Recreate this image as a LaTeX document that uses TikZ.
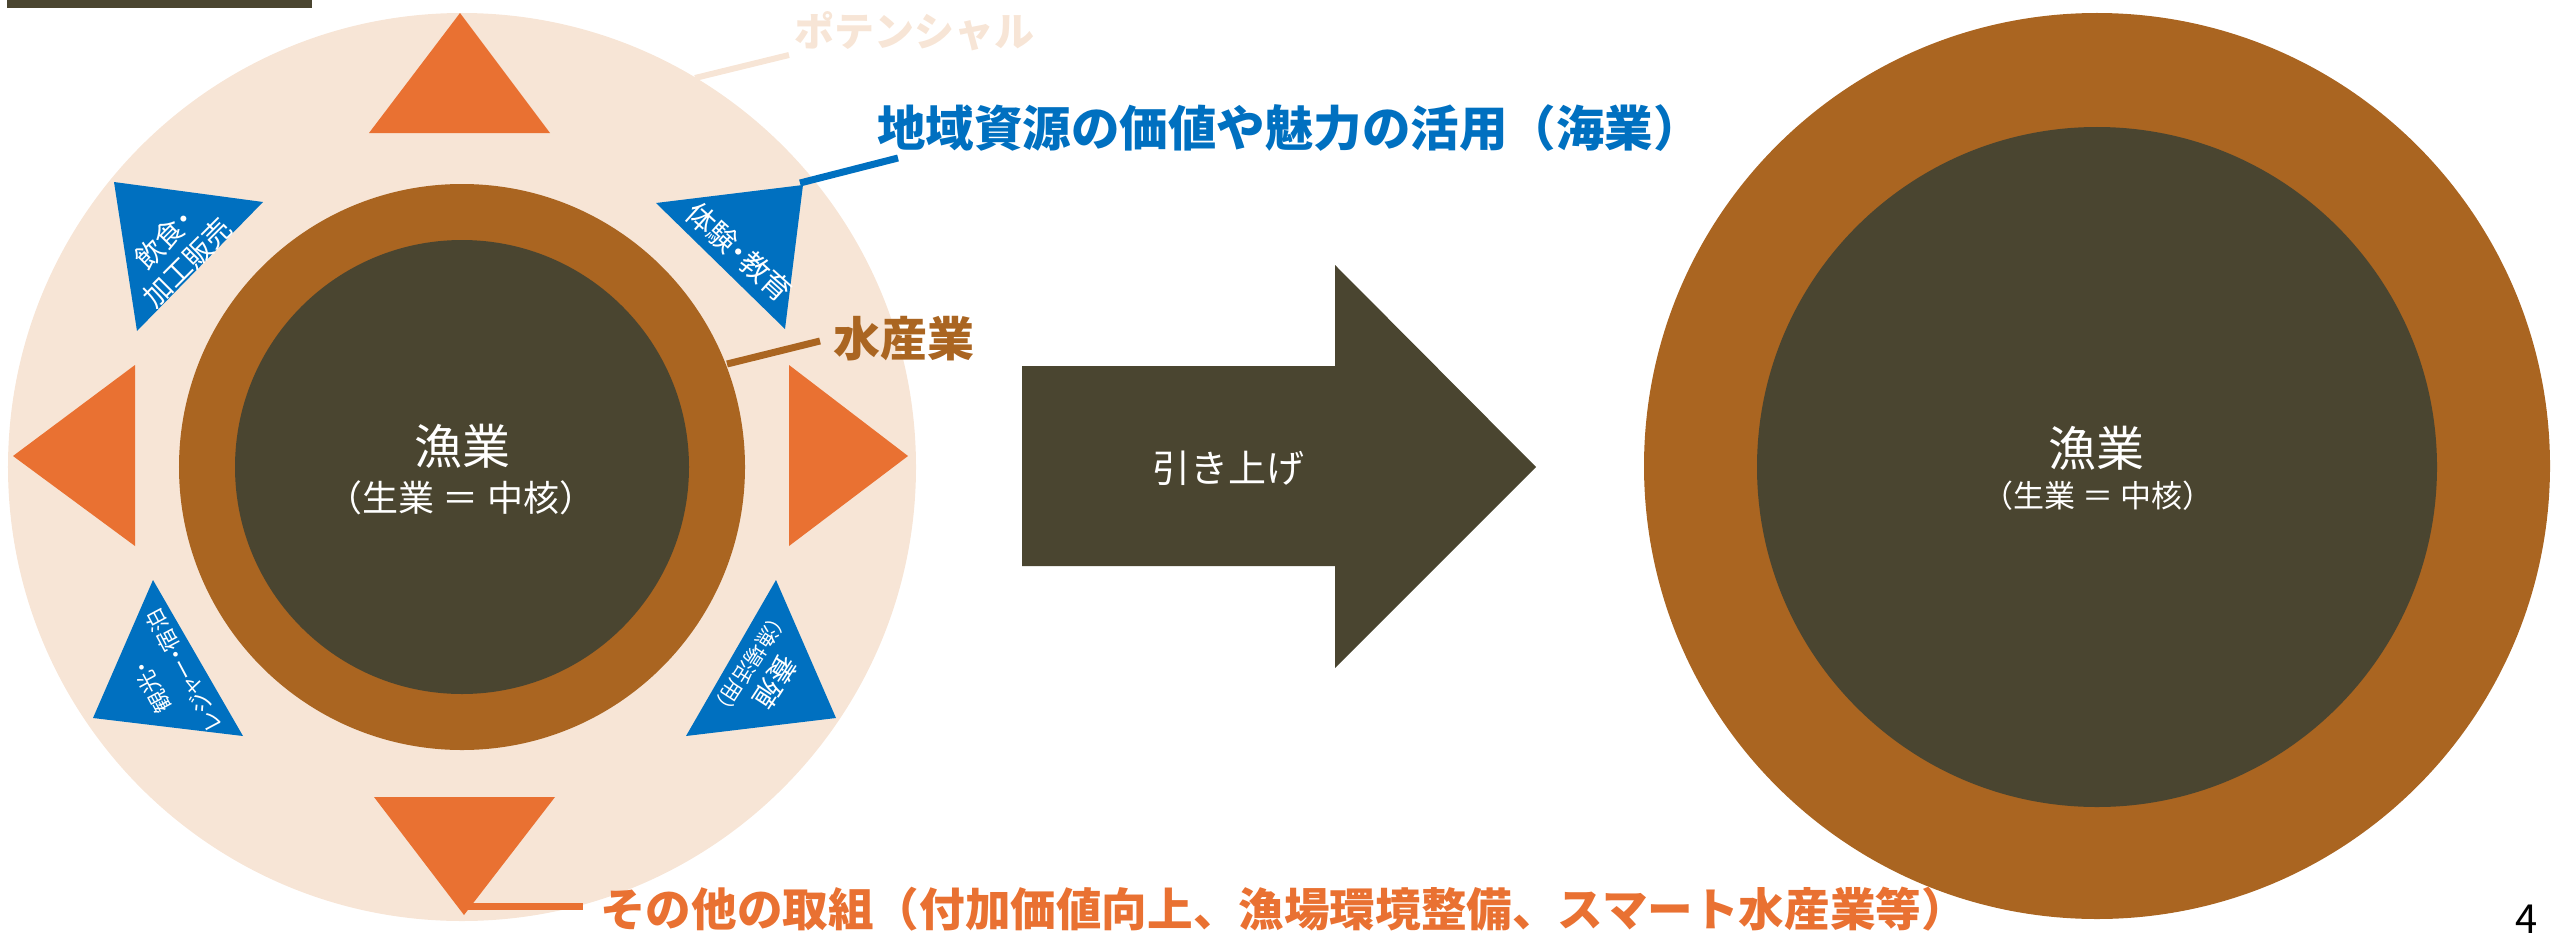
\documentclass[tikz,border=0pt]{standalone}
\usepackage{fontspec}
\setmainfont{Noto Sans CJK JP}
\newfontfamily\jpp{Noto Sans CJK JP}[RawFeature=+palt]
\definecolor{cBeige}{HTML}{F7E5D6}
\definecolor{cOrange}{HTML}{E97132}
\definecolor{cBlue}{HTML}{0070C0}
\definecolor{cBrown}{HTML}{AA6521}
\definecolor{cDark}{HTML}{4A4530}
\newcommand\myfs[2]{\fontsize{#1bp}{#2bp}\selectfont}
\begin{document}
\begin{tikzpicture}[x=1bp,y=-1bp,
  otri/.style={fill=cOrange},
  btri/.style={fill=cBlue},
  wtxt/.style={text=white,inner sep=0pt,align=center},
  lab/.style={inner sep=0pt,font=\bfseries\myfs{47}{50}},
]
\useasboundingbox (0,0) rectangle (2552,936);
\fill[cDark] (7,0) rectangle (312,8);

% ---------- left figure ----------
\fill[cBeige] (462,467) circle[radius=454bp];
\fill[otri] (460,13) -- (550,133) -- (369,133) -- cycle;
\fill[otri] (374,797) -- (555,797) -- (464,915) -- cycle;
\fill[otri] (13,456) -- (135,365) -- (135,546) -- cycle;
\fill[otri] (908,456) -- (789,365) -- (789,546) -- cycle;
\fill[btri] (114,182) -- (263,202) -- (137,331) -- cycle;
\fill[btri] (656,203) -- (803,185) -- (785,329) -- cycle;
\fill[btri] (153,580) -- (243,736) -- (93,718) -- cycle;
\fill[btri] (776,580) -- (836,718) -- (686,736) -- cycle;
\fill[cBrown] (462,467) circle[radius=283bp];
\fill[cDark] (462,467) circle[radius=227bp];

\node[wtxt, font=\myfs{48}{52}] (gyoL) at (462,446) {漁業};
\node[wtxt, font=\myfs{36}{40}] (gyoLs) at (461,498) {（生業 ＝ 中核）};

\node[wtxt, rotate=45, font=\jpp\myfs{28}{33}] (t1) at (176,251) {飲食・\\加工販売};
\node[wtxt, rotate=-42, font=\jpp\myfs{29}{33}] (t2) at (739,252) {体験・教育};
\node[wtxt, rotate=118, font=\jpp\myfs{22}{36}] (t3) at (168,679) {観光・\\レジャー・宿泊};
\node[wtxt, rotate=237, font=\jpp\myfs{28}{33}] (t4a) at (775,682) {養殖};
\node[wtxt, rotate=237, font=\jpp\myfs{21}{25}] (t4b) at (750,664) {（漁場活用）};

% ---------- labels and leaders ----------
\node[lab, text=cBeige, font=\bfseries\myfs{40}{44}] (pot) at (914,31) {ポテンシャル};
\node[lab, text=cBlue, anchor=west, font=\bfseries\myfs{48.5}{52}] (chiiki) at (877,128) {地域資源の価値や魅力の活用（海業）};
\node[lab, text=cBrown] (suisan) at (904,339) {水産業};
\node[lab, text=cOrange, font=\bfseries\myfs{45.6}{48}, anchor=west] (sonota) at (600,909) {その他の取組（付加価値向上、漁場環境整備、スマート水産業等）};

\coordinate (potA) at (695,78);  \coordinate (potB) at (789,55);
\coordinate (chA) at (800,183);  \coordinate (chB) at (898,158);
\coordinate (suA) at (727,364);  \coordinate (suB) at (820,341);
\coordinate (soA) at (464,906);  \coordinate (soB) at (583,906);
\draw[cBeige, line width=6bp] (potA) -- (potB);
\draw[cBlue, line width=7bp] (chA) -- (chB);
\draw[cBrown, line width=7bp] (suA) -- (suB);
\draw[cOrange, line width=7bp] (soA) -- (soB);

% ---------- arrow ----------
\fill[cDark] (1022,366) -- (1335,366) -- (1335,265) -- (1536,467) -- (1335,668) -- (1335,566) -- (1022,566) -- cycle;
\node[wtxt, font=\myfs{38}{42}] (hiki) at (1228,468) {引き上げ};

% ---------- right figure ----------
\fill[cBrown] (2097,466) circle[radius=453bp];
\fill[cDark] (2097,467) circle[radius=340bp];
\node[wtxt, font=\myfs{48}{52}] (gyoR) at (2096,448) {漁業};
\node[wtxt, font=\myfs{31}{35}] (gyoRs) at (2098,496) {（生業 ＝ 中核）};

\node[inner sep=0pt, font=\myfs{40}{44}] (pg) at (2527,919) {4};
\end{tikzpicture}
\end{document}
